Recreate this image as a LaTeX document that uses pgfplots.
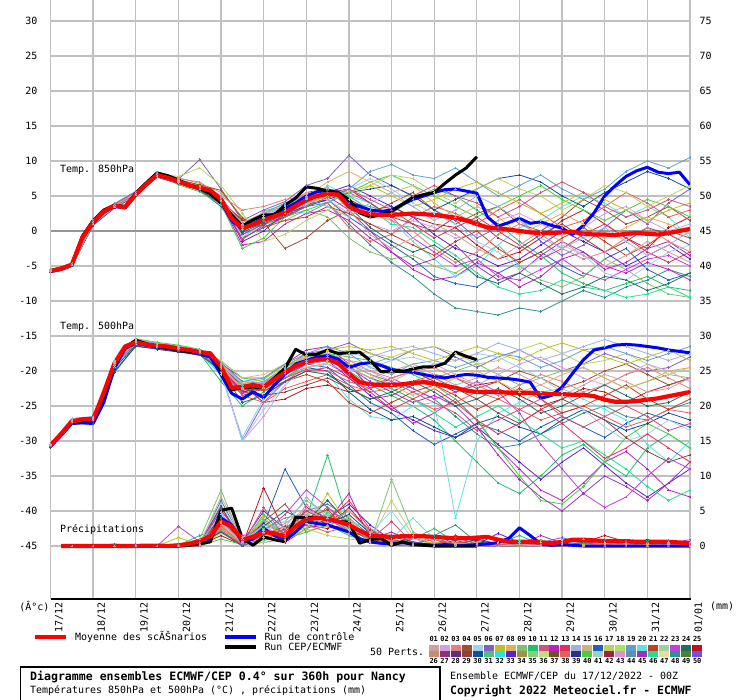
\documentclass[border=0pt]{standalone}
\usepackage{fontspec}
\setmainfont{DejaVu Sans Mono}
\usepackage{pgfplots}
\usepackage{pgfplotstable}
\pgfplotsset{compat=1.18}

\definecolor{p1}{HTML}{D0A0A0}\definecolor{p2}{HTML}{D0A0E0}\definecolor{p3}{HTML}{E08080}\definecolor{p4}{HTML}{A05030}\definecolor{p5}{HTML}{A0D0F0}
\definecolor{p6}{HTML}{8060C0}\definecolor{p7}{HTML}{C0C020}\definecolor{p8}{HTML}{E0B060}\definecolor{p9}{HTML}{80C070}\definecolor{p10}{HTML}{20C070}
\definecolor{p11}{HTML}{D05080}\definecolor{p12}{HTML}{C020C0}\definecolor{p13}{HTML}{E03060}\definecolor{p14}{HTML}{A0B0E0}\definecolor{p15}{HTML}{D0B080}
\definecolor{p16}{HTML}{2060C0}\definecolor{p17}{HTML}{C0D060}\definecolor{p18}{HTML}{B0E060}\definecolor{p19}{HTML}{60A0D0}\definecolor{p20}{HTML}{60E0E0}
\definecolor{p21}{HTML}{C04020}\definecolor{p22}{HTML}{A0D0A0}\definecolor{p23}{HTML}{C040E0}\definecolor{p24}{HTML}{207060}\definecolor{p25}{HTML}{C01020}
\definecolor{p26}{HTML}{C09070}\definecolor{p27}{HTML}{903070}\definecolor{p28}{HTML}{603080}\definecolor{p29}{HTML}{904040}\definecolor{p30}{HTML}{105090}
\definecolor{p31}{HTML}{50C080}\definecolor{p32}{HTML}{30E0E0}\definecolor{p33}{HTML}{6020D0}\definecolor{p34}{HTML}{A09050}\definecolor{p35}{HTML}{80D080}
\definecolor{p36}{HTML}{C0E080}\definecolor{p37}{HTML}{705030}\definecolor{p38}{HTML}{E06060}\definecolor{p39}{HTML}{303080}\definecolor{p40}{HTML}{40D040}
\definecolor{p41}{HTML}{A0D0C0}\definecolor{p42}{HTML}{A02040}\definecolor{p43}{HTML}{E090D0}\definecolor{p44}{HTML}{6090B0}\definecolor{p45}{HTML}{A030C0}
\definecolor{p46}{HTML}{20E090}\definecolor{p47}{HTML}{E0E0A0}\definecolor{p48}{HTML}{309090}\definecolor{p49}{HTML}{508030}\definecolor{p50}{HTML}{7050E0}
\colorlet{mc1}{p6}\colorlet{mc2}{p16}\colorlet{mc3}{p10}\colorlet{mc4}{p48}\colorlet{mc5}{p25}
\colorlet{mc6}{p9}\colorlet{mc7}{p12}\colorlet{mc8}{p20}\colorlet{mc9}{p4}\colorlet{mc10}{p33}
\colorlet{mc11}{p40}\colorlet{mc12}{p23}\colorlet{mc13}{p38}\colorlet{mc14}{p30}\colorlet{mc15}{p17}
\colorlet{mc16}{p45}\colorlet{mc17}{p2}\colorlet{mc18}{p29}\colorlet{mc19}{p46}\colorlet{mc20}{p19}
\colorlet{mc21}{p21}\colorlet{mc22}{p3}\colorlet{mc23}{p5}\colorlet{mc24}{p7}\colorlet{mc25}{p13}
\colorlet{mc26}{p24}\colorlet{mc27}{p8}\colorlet{mc28}{p14}\colorlet{mc29}{p11}\colorlet{mc30}{p1}
\definecolor{gridgray}{HTML}{C0C0C0}
\definecolor{zerogray}{HTML}{959595}
\newcommand\ft{\fontsize{10}{12}\selectfont}

% ensemble members, 850 hPa (degC)
\pgfplotstableread{
t m1 m2 m3 m4 m5 m6 m7 m8 m9 m10 m11 m12 m13 m14 m15 m16 m17 m18 m19 m20 m21 m22 m23 m24 m25 m26 m27 m28 m29 m30
0 -5.6 -5.8 -5.7 -5.6 -5.9 -5.5 -5.7 -5.6 -5.8 -5.7 -5.6 -5.8 -5.7 -5.9 -5.6 -5.7 -5.6 -5.8 -5.7 -5.6 -5.7 -5.6 -5.8 -5.7 -5.6 -5.8 -5.7 -5.6 -5.7 -5.8
0.5 -4.7 -4.9 -4.8 -4.7 -5.0 -4.6 -4.8 -4.7 -4.9 -4.8 -4.7 -4.9 -4.8 -5.0 -4.7 -4.8 -4.7 -4.9 -4.8 -4.7 -4.8 -4.7 -4.9 -4.8 -4.7 -4.9 -4.8 -4.7 -4.8 -4.9
1 1.5 0.8 1.3 1.0 1.1 1.6 1.2 1.4 0.9 1.1 1.3 1.0 1.2 0.9 1.4 1.1 1.3 1.0 1.2 1.5 1.1 1.3 1.0 1.2 1.4 0.9 1.2 1.3 1.1 1.0
1.5 3.9 3.3 3.7 3.4 3.6 3.9 3.5 3.8 3.4 3.6 3.7 3.5 3.6 3.3 3.8 3.5 3.6 3.4 3.6 3.9 3.5 3.7 3.4 3.6 3.8 3.4 3.6 3.7 3.5 3.4
2 5.6 5.0 5.4 5.2 5.1 5.7 5.3 5.5 5.1 5.2 5.4 5.2 5.3 5.0 5.5 5.2 5.4 5.1 5.3 5.6 5.2 5.4 5.1 5.3 5.5 5.1 5.3 5.4 5.2 5.1
2.5 8.4 7.8 8.1 7.9 7.7 8.3 8.0 8.2 7.9 8.0 8.1 7.8 8.0 7.7 8.2 7.9 8.1 7.8 8.0 8.3 7.9 8.2 7.8 8.0 8.1 7.8 8.0 8.1 7.9 7.8
3 7.4 6.9 7.2 7.0 6.8 7.6 7.1 7.3 6.9 7.0 6.6 7.0 7.1 6.8 7.8 7.0 7.2 6.9 7.1 7.4 7.3 7.5 6.9 7.2 7.0 6.8 7.1 7.2 7.0 6.9
3.5 10.2 5.8 6.3 6.0 6.0 6.8 6.2 6.5 6.1 6.0 5.6 6.2 6.3 5.9 9.0 6.1 6.2 6.0 6.2 6.5 6.6 7.0 6.0 6.4 6.0 5.8 6.2 6.3 6.1 6.0
4 6.0 3.5 4.8 4.2 4.6 5.5 4.0 5.0 4.3 4.4 3.8 4.9 4.7 4.1 6.5 4.4 4.6 4.3 4.5 4.8 5.8 5.0 4.2 4.6 4.2 3.9 4.4 4.6 4.5 4.3
4.5 1.5 -1.0 0.6 -0.5 1.0 2.0 -2.0 0.0 1.5 -1.5 -2.5 0.5 1.0 0.0 2.5 -0.5 0.8 1.5 0.2 -1.0 1.8 3.0 -0.8 0.5 -1.2 -0.2 0.3 0.9 0.7 1.2
5 3.0 0.5 2.2 1.0 1.5 1.0 -1.5 2.5 1.2 0.0 -1.0 2.5 2.0 1.5 -1.5 1.0 2.0 1.0 2.8 1.5 0.5 3.5 0.8 1.8 0.8 1.2 2.0 2.3 1.5 2.6
5.5 4.2 2.0 3.0 2.0 3.5 1.5 1.0 3.5 -2.5 2.5 2.0 4.0 3.0 2.5 -0.5 2.0 3.5 2.0 3.8 3.0 1.5 4.5 2.5 3.2 2.8 2.2 3.0 3.5 2.0 3.6
6 6.5 3.8 4.8 3.5 5.5 3.0 2.5 4.0 -1.0 4.5 3.0 5.0 5.0 3.5 1.5 4.0 5.5 3.5 4.5 2.5 2.0 5.0 3.8 4.0 4.2 4.2 5.0 4.6 3.5 5.2
6.5 7.5 4.5 5.5 4.0 6.0 2.0 3.0 6.5 1.5 5.5 4.0 6.0 4.0 4.5 3.0 5.0 4.5 5.5 6.0 4.0 3.5 5.5 5.0 5.0 5.5 5.8 7.0 3.5 4.8 6.2
7 10.8 2.0 4.0 1.0 4.5 -1.0 1.5 5.0 3.0 6.5 5.5 5.5 0.5 5.5 4.5 3.0 2.5 6.0 5.0 6.0 2.5 4.0 6.0 5.5 4.0 3.5 8.5 2.0 6.0 3.0
7.5 8.0 0.0 3.5 -2.0 3.0 -3.0 -1.0 4.0 2.5 5.0 7.0 4.0 -1.5 6.0 6.5 0.0 1.0 4.0 3.0 8.5 1.0 2.5 7.5 6.5 2.0 0.5 7.0 4.0 4.5 -0.5
8 6.5 -2.0 2.5 -4.5 3.5 -4.0 -3.0 1.5 4.0 3.5 8.0 2.0 -0.5 6.5 8.0 -3.0 0.0 2.0 1.0 9.5 -0.5 1.5 6.0 5.0 3.0 -1.5 5.5 5.5 3.0 -2.5
8.5 5.0 -4.0 4.5 -6.5 2.0 -3.5 -5.5 -1.5 5.5 2.0 6.5 -1.0 2.0 5.0 7.5 -5.0 1.5 1.0 0.5 8.0 -2.0 0.0 4.0 3.5 1.0 -3.0 6.5 3.5 5.0 -1.0
9 3.0 -6.5 6.0 -9.0 1.0 -5.0 -7.0 -4.0 3.0 -0.5 5.0 -3.0 3.5 3.0 5.5 -4.0 0.5 0.0 -1.5 7.5 -3.5 -2.5 2.5 4.5 -1.0 -2.0 4.0 1.5 6.5 1.0
9.5 1.5 -7.5 5.0 -11.0 0.5 -6.0 -6.5 -6.5 1.0 -2.5 3.5 -5.0 2.5 4.5 4.0 -2.0 -1.0 2.0 -3.5 9.0 -1.5 -4.5 1.0 6.0 0.5 -4.0 2.0 3.0 5.0 -0.5
10 -1.0 -8.0 3.0 -11.5 -2.0 -4.0 -4.5 -5.0 2.5 -3.5 2.0 -4.0 1.0 6.0 6.0 -5.0 -0.5 1.5 -6.0 7.0 0.0 -3.0 -1.5 7.0 2.0 -6.5 3.5 5.0 4.0 -2.5
10.5 0.5 -6.0 1.0 -12.0 -4.0 -2.0 -6.0 -2.0 3.5 -5.0 3.5 -6.5 3.0 7.5 7.5 -7.0 1.5 -1.0 -8.0 5.0 -2.5 -0.5 -3.0 5.5 0.0 -7.5 2.0 3.5 2.0 -4.0
11 2.0 -4.5 -1.5 -11.0 -3.0 -5.0 -8.0 0.5 1.0 -4.0 5.0 -7.0 4.5 8.0 6.0 -6.0 2.5 -2.5 -9.0 6.5 -4.5 1.0 -5.5 4.0 -2.0 -6.0 -0.5 1.5 3.5 -2.0
11.5 -1.5 -3.0 -3.5 -11.5 -1.0 -7.0 -6.5 1.5 0.0 -2.0 6.5 -5.5 2.5 7.0 5.0 -3.5 1.0 -0.5 -8.5 8.0 -3.0 -0.5 -4.0 2.5 -4.0 -7.5 1.0 -1.0 5.5 0.0
12 -3.5 -5.0 -6.0 -10.0 1.5 -8.0 -4.0 3.5 2.0 0.0 4.5 -4.0 0.5 5.0 3.0 -1.5 -0.5 1.0 -7.0 6.0 -1.0 -2.5 -2.0 4.0 -2.5 -9.0 2.5 -2.5 7.0 -1.5
12.5 -2.0 -6.5 -7.5 -8.5 3.0 -6.5 -3.0 5.0 4.5 -1.5 3.0 -6.0 1.5 3.5 4.5 -3.0 0.5 -1.0 -8.0 4.5 0.5 -4.0 -3.5 5.5 -0.5 -8.0 1.0 -1.0 5.5 -3.5
13 0.5 -4.0 -8.5 -9.5 1.0 -4.0 -5.0 4.0 3.0 -3.0 1.5 -7.0 3.5 5.5 6.5 -5.5 2.5 -3.0 -8.5 6.0 -1.5 -3.0 -6.0 4.5 1.0 -6.5 -1.0 0.5 3.5 -5.0
13.5 3.0 -2.5 -7.5 -8.0 -1.0 -5.5 -6.0 2.0 1.0 -5.0 3.0 -5.5 5.5 7.0 5.5 -4.5 3.5 -1.5 -9.5 8.5 -3.5 -1.0 -7.0 3.0 -1.0 -7.0 0.5 -1.5 2.0 -3.5
14 1.0 -5.5 -6.5 -7.0 -2.5 -7.5 -4.5 3.5 2.0 -3.5 4.5 -4.0 4.0 8.5 3.5 -2.5 1.5 0.5 -9.0 10.0 -2.0 0.5 -5.0 1.5 -3.0 -8.5 2.0 -3.5 3.0 -1.5
14.5 4.0 -7.0 -8.0 -5.5 0.5 -9.0 -5.5 2.0 3.5 -2.0 3.5 -3.5 2.0 7.5 5.0 -1.5 0.0 -0.5 -8.0 9.0 0.0 -1.5 -3.0 3.0 -4.5 -7.5 1.0 -2.0 4.5 -3.0
15 6.0 -6.0 -8.5 -6.5 2.0 -9.5 -7.0 -1.0 1.5 -4.0 2.0 -5.0 3.0 6.0 6.5 -3.5 1.0 -2.0 -9.5 10.5 -1.0 -3.0 -2.0 4.0 -3.0 -6.0 -0.5 0.0 3.5 -4.5
}\tA

% ensemble members, 500 hPa (degC)
\pgfplotstableread{
t m1 m2 m3 m4 m5 m6 m7 m8 m9 m10 m11 m12 m13 m14 m15 m16 m17 m18 m19 m20 m21 m22 m23 m24 m25 m26 m27 m28 m29 m30
0 -30.4 -30.8 -30.6 -30.5 -30.7 -30.5 -30.6 -30.8 -30.5 -30.6 -30.4 -30.7 -30.6 -30.9 -30.5 -30.6 -30.4 -30.7 -30.6 -30.5 -30.6 -30.5 -30.7 -30.5 -30.6 -30.8 -30.6 -30.5 -30.7 -30.6
0.5 -26.8 -27.5 -27.0 -27.0 -27.3 -27.1 -27.2 -27.4 -27.0 -27.1 -26.9 -27.3 -27.2 -27.6 -27.0 -27.1 -26.8 -27.2 -27.1 -27.0 -27.1 -27.0 -27.3 -27.0 -27.2 -27.4 -27.1 -27.0 -27.3 -27.2
1 -26.5 -27.6 -26.8 -26.7 -27.0 -26.8 -26.9 -27.1 -26.8 -26.9 -26.6 -27.0 -26.9 -27.4 -26.7 -26.8 -26.6 -26.9 -26.8 -26.7 -26.8 -26.7 -27.0 -26.8 -26.9 -27.2 -26.8 -26.7 -27.0 -26.9
1.5 -18.5 -20.0 -19.0 -18.8 -19.2 -18.7 -18.9 -19.5 -18.8 -18.9 -18.4 -19.1 -18.9 -20.2 -18.7 -18.8 -18.5 -18.9 -18.8 -18.6 -18.8 -18.7 -19.2 -18.8 -18.9 -19.6 -18.8 -18.6 -19.1 -18.9
2 -15.5 -16.5 -16.0 -15.8 -16.2 -15.7 -15.9 -16.3 -15.8 -15.9 -15.4 -16.1 -15.9 -16.4 -15.7 -15.8 -15.5 -15.9 -15.8 -15.6 -15.8 -15.7 -16.2 -15.8 -15.9 -16.3 -15.8 -15.6 -16.1 -15.9
2.5 -16.0 -16.8 -16.5 -16.3 -16.6 -16.2 -16.4 -16.7 -16.3 -16.4 -15.9 -16.6 -16.4 -16.9 -16.2 -16.3 -16.0 -16.4 -16.3 -16.1 -16.3 -16.2 -16.6 -16.3 -16.4 -16.7 -16.3 -16.1 -16.5 -16.4
3 -16.5 -17.2 -17.0 -16.7 -17.0 -16.6 -16.8 -17.1 -16.7 -16.8 -16.3 -17.0 -16.8 -17.3 -16.6 -16.7 -16.5 -16.8 -16.7 -16.5 -16.7 -16.6 -17.0 -16.7 -16.8 -17.1 -16.7 -16.5 -16.9 -16.8
3.5 -17.0 -17.6 -17.5 -17.2 -17.4 -17.5 -17.3 -17.6 -17.2 -17.3 -16.9 -17.5 -17.3 -17.7 -17.0 -17.2 -17.0 -17.3 -17.2 -17.0 -17.2 -17.1 -17.5 -17.2 -17.3 -17.6 -17.2 -17.0 -17.4 -17.3
4 -18.8 -19.8 -21.5 -19.2 -19.5 -20.5 -19.0 -20.5 -19.4 -19.3 -18.6 -20.0 -19.4 -19.8 -18.5 -19.6 -20.0 -19.5 -19.3 -19.0 -19.6 -19.1 -20.2 -19.2 -19.4 -20.0 -19.4 -18.9 -19.7 -19.5
4.5 -21.5 -23.5 -25.0 -22.0 -22.0 -23.0 -21.0 -29.5 -22.5 -22.0 -21.0 -30.0 -23.5 -23.0 -21.0 -22.8 -30.0 -22.5 -22.3 -21.5 -22.5 -22.0 -30.0 -21.8 -23.0 -24.5 -22.4 -21.8 -23.2 -22.6
5 -21.8 -22.5 -23.0 -21.5 -24.5 -22.0 -21.0 -24.0 -22.5 -22.0 -21.5 -24.5 -24.5 -22.5 -20.5 -22.0 -26.5 -23.5 -22.0 -21.0 -22.8 -21.8 -25.5 -21.2 -23.5 -23.5 -22.5 -21.6 -22.6 -22.3
5.5 -19.5 -20.5 -21.0 -20.0 -24.0 -19.5 -19.0 -21.5 -20.5 -20.0 -19.5 -21.5 -22.5 -21.0 -19.0 -20.5 -22.0 -23.0 -20.0 -19.0 -21.5 -19.8 -22.0 -19.2 -21.5 -21.5 -21.0 -19.6 -21.0 -20.3
6 -17.5 -19.0 -19.0 -18.5 -22.5 -18.0 -17.0 -20.0 -19.0 -18.5 -18.0 -19.5 -21.5 -19.5 -18.0 -19.0 -19.0 -22.0 -18.5 -17.5 -20.5 -18.2 -19.5 -17.8 -20.0 -20.0 -19.5 -18.0 -19.8 -18.8
6.5 -17.0 -19.5 -18.5 -18.0 -22.0 -17.5 -16.5 -20.5 -18.5 -18.5 -17.5 -19.0 -20.5 -20.0 -17.5 -18.5 -18.5 -21.0 -18.0 -16.5 -21.5 -17.8 -19.0 -17.0 -19.5 -20.5 -18.8 -17.2 -20.0 -18.4
7 -16.0 -22.0 -20.0 -19.0 -23.0 -18.5 -19.0 -24.0 -19.5 -21.0 -18.0 -20.5 -22.0 -23.0 -17.0 -19.5 -19.0 -22.5 -19.5 -17.5 -24.5 -18.5 -20.0 -16.5 -21.0 -22.5 -19.0 -17.5 -21.5 -19.6
7.5 -17.5 -24.5 -22.0 -20.5 -22.5 -19.0 -22.5 -26.5 -21.0 -23.5 -18.5 -22.0 -23.0 -25.5 -17.5 -21.5 -20.0 -24.0 -21.0 -19.5 -26.0 -20.0 -19.5 -17.0 -23.0 -24.0 -20.5 -18.0 -22.5 -21.0
8 -18.5 -26.0 -23.5 -21.5 -21.0 -18.0 -25.0 -27.0 -22.0 -25.5 -19.5 -21.0 -22.5 -27.0 -18.0 -23.0 -21.5 -23.5 -22.5 -20.5 -24.5 -21.0 -18.5 -16.5 -25.5 -23.0 -22.0 -17.0 -21.5 -20.0
8.5 -17.0 -28.5 -25.0 -22.5 -20.0 -19.5 -27.5 -25.0 -21.5 -27.0 -20.5 -22.5 -24.0 -26.5 -17.0 -24.5 -20.0 -22.0 -24.0 -19.0 -23.0 -20.0 -18.0 -17.5 -24.0 -21.5 -23.5 -16.5 -23.0 -19.0
9 -16.5 -30.5 -27.0 -24.0 -21.5 -21.0 -26.0 -24.5 -20.5 -28.5 -22.0 -24.0 -25.5 -28.0 -16.5 -23.5 -19.0 -21.0 -26.0 -18.5 -22.0 -19.5 -19.0 -18.5 -22.5 -23.0 -22.5 -17.5 -24.5 -20.5
9.5 -18.0 -29.0 -30.0 -26.5 -23.0 -20.0 -24.0 -41.0 -21.0 -29.5 -24.0 -23.0 -24.5 -29.5 -17.5 -25.0 -20.5 -22.5 -28.0 -19.5 -23.5 -21.0 -18.5 -17.5 -24.5 -25.0 -21.0 -18.5 -26.0 -22.0
10 -19.5 -27.5 -33.0 -29.0 -22.0 -19.0 -27.0 -30.0 -22.5 -28.0 -27.0 -21.5 -23.0 -27.5 -19.0 -28.0 -22.0 -24.0 -26.5 -18.5 -25.5 -22.0 -17.5 -16.5 -27.0 -24.0 -20.0 -17.5 -28.5 -21.0
10.5 -18.0 -28.5 -36.0 -31.0 -21.5 -20.5 -31.0 -26.0 -21.5 -30.5 -31.0 -23.0 -24.0 -26.5 -18.5 -32.0 -20.5 -26.0 -25.0 -17.5 -24.0 -23.5 -18.0 -17.5 -29.0 -22.5 -21.5 -16.0 -27.0 -19.5
11 -17.0 -30.0 -37.5 -30.5 -23.5 -22.0 -34.0 -24.5 -20.0 -33.0 -35.0 -26.0 -25.5 -28.0 -17.0 -35.5 -19.0 -27.5 -27.0 -18.0 -22.5 -22.0 -19.5 -18.5 -27.5 -24.0 -23.0 -17.0 -25.5 -20.5
11.5 -18.5 -28.0 -35.0 -29.0 -25.0 -21.0 -37.0 -23.0 -21.0 -35.5 -38.5 -30.5 -27.0 -29.0 -16.0 -38.0 -18.0 -25.5 -29.0 -19.5 -24.0 -20.5 -21.0 -17.0 -25.5 -26.0 -22.0 -18.5 -24.0 -22.0
12 -20.0 -26.5 -32.0 -27.5 -24.0 -20.0 -38.5 -22.5 -22.5 -33.0 -39.0 -34.0 -26.0 -27.0 -17.5 -40.0 -19.5 -24.0 -31.0 -18.5 -26.0 -21.5 -23.0 -16.0 -27.5 -25.0 -20.5 -17.5 -26.5 -23.5
12.5 -19.0 -28.0 -30.5 -26.0 -22.5 -19.5 -36.0 -24.0 -21.5 -31.0 -36.5 -37.5 -25.0 -25.5 -19.0 -37.5 -21.0 -25.5 -30.0 -17.0 -25.0 -23.0 -25.5 -17.0 -30.0 -23.5 -19.5 -16.5 -28.0 -22.0
13 -17.5 -29.5 -33.0 -25.0 -23.0 -21.0 -33.0 -25.5 -20.0 -33.5 -33.0 -39.5 -26.5 -27.0 -18.5 -35.0 -22.0 -27.0 -32.0 -16.5 -23.5 -22.0 -28.0 -18.0 -32.5 -22.0 -21.0 -15.5 -26.5 -20.5
13.5 -18.5 -27.5 -35.0 -26.5 -24.5 -22.5 -31.5 -27.0 -19.0 -36.0 -29.5 -38.0 -28.0 -28.5 -17.5 -36.5 -20.5 -29.5 -34.0 -17.5 -22.0 -20.5 -30.0 -19.0 -31.0 -23.5 -22.5 -16.5 -25.0 -21.5
14 -20.0 -26.0 -31.0 -27.0 -23.0 -21.5 -34.0 -30.5 -20.5 -38.0 -27.5 -35.0 -27.0 -27.5 -19.0 -38.5 -19.0 -31.5 -36.5 -18.5 -24.0 -19.5 -29.0 -18.0 -29.0 -25.0 -21.5 -17.5 -26.5 -23.0
14.5 -19.5 -27.0 -29.0 -25.5 -22.0 -20.5 -37.0 -33.0 -22.0 -36.0 -29.0 -32.5 -25.5 -26.0 -20.5 -36.0 -20.0 -33.0 -38.5 -17.5 -25.5 -21.0 -27.0 -17.0 -31.0 -24.5 -20.0 -18.5 -28.5 -22.5
15 -18.0 -28.0 -31.0 -24.5 -21.0 -21.0 -38.0 -30.0 -21.0 -34.0 -31.0 -34.0 -26.0 -27.0 -19.5 -33.0 -21.5 -32.0 -37.0 -16.5 -24.0 -22.5 -28.5 -18.5 -33.0 -23.0 -19.5 -17.5 -27.5 -21.0
}\tB

% ensemble members, precipitation (mm)
\pgfplotstableread{
t m1 m2 m3 m4 m5 m6 m7 m8 m9 m10 m11 m12 m13 m14 m15 m16 m17 m18 m19 m20 m21 m22 m23 m24 m25 m26 m27 m28 m29 m30
0.5 0 0 0 0 0 0 0 0 0 0 0 0 0 0 0 0 0 0 0 0 0 0 0 0 0 0 0 0 0 0
1 0 0 0 0 0 0 0 0 0 0 0 0 0 0 0 0 0 0 0 0 0 0 0 0 0 0 0 0 0 0
1.5 0 0 0 0 0.2 0 0 0 0.3 0 0 0 0 0 0 0 0 0 0 0 0 0 0 0 0 0.1 0 0 0 0
2 0 0 0 0 0 0 0 0 0 0 0 0.2 0 0 0 0 0 0 0 0 0 0.1 0 0 0 0 0 0 0 0
2.5 0 0 0 0 0 0 0 0 0 0 0 0 0 0 0 0 0 0 0 0 0 0 0 0 0 0 0 0 0 0
3 0 0 0.1 0 0 0.2 0 0 0 0 0 2.8 0 0 0 0 0 0 0 0 0 0 0 1.2 0 0 0 0 0.3 0
3.5 0.2 0.5 1.5 0.3 0.1 1.0 0.0 0.4 0.2 0.1 0.0 0.6 0.2 0.3 0.1 0.0 0.2 0.4 0.1 0.2 0.3 0.1 0.6 0.2 0.0 0.4 0.2 0.1 0.5 0.2
4 3.5 5.5 2.5 6.5 1.5 8.0 3.0 4.5 2.0 3.8 1.0 5.0 2.8 4.2 1.8 2.2 3.2 5.8 2.4 3.6 4.0 2.6 6.0 3.0 5.2 2.0 3.4 4.8 2.2 7.0
4.5 0.5 1.0 0.3 0.8 0.1 0.5 0.2 1.2 0.0 0.6 0.2 1.5 0.4 0.9 0.3 0.0 0.7 0.2 0.5 1.0 0.6 0.2 1.0 0.4 0.8 0.1 0.3 0.5 0.2 1.2
5 2.0 3.0 4.5 1.0 8.3 2.5 1.5 0.8 3.5 5.0 0.5 2.0 1.8 3.2 0.6 1.2 2.8 1.6 3.8 2.4 1.6 3.6 2.2 4.2 1.0 2.8 1.2 3.0 5.5 2.0
5.5 1.0 11.0 1.5 2.5 2.0 3.5 0.5 1.5 6.0 2.5 1.0 4.5 2.2 1.8 3.0 0.8 1.2 2.8 1.6 4.0 2.4 1.0 3.5 0.8 2.0 5.0 1.8 2.6 1.2 3.2
6 3.5 5.5 4.0 5.0 3.0 6.5 2.5 4.5 2.0 3.5 2.0 8.0 3.0 3.8 2.5 5.5 4.2 3.2 2.6 4.6 4.0 6.0 3.2 2.4 5.0 3.5 4.6 7.0 3.0 5.4
6.5 4.5 4.0 13.0 6.0 2.5 4.5 3.5 5.0 3.0 4.0 3.0 5.5 2.0 3.2 1.5 3.8 6.5 3.6 4.8 2.8 5.2 3.0 4.4 7.5 3.6 6.5 2.8 4.0 5.6 3.4
7 3.0 2.5 3.0 4.0 5.5 2.0 7.5 3.5 2.5 6.0 1.5 3.0 2.8 4.5 1.0 2.2 3.3 5.0 2.6 1.8 2.0 3.8 2.4 3.0 6.5 3.2 4.2 2.2 3.0 5.0
7.5 1.0 0.8 0.5 1.5 2.0 0.5 1.0 2.5 1.0 3.0 0.5 0.8 1.5 1.8 0.7 0.4 1.2 2.2 1.4 0.6 1.2 0.6 1.8 0.8 2.4 1.0 0.5 1.6 0.9 2.0
8 0.5 1.5 0.2 0.6 0.5 9.5 2.0 1.0 0.4 0.8 0.2 0.3 0.7 0.9 6.5 0.1 0.5 0.6 0.3 0.2 0.4 0.8 5.0 0.3 0.6 1.4 0.2 0.4 3.5 0.6
8.5 0.2 0.3 1.0 0.1 0.0 2.0 0.5 4.0 0.1 0.5 0.0 1.2 0.3 0.4 1.5 0.0 0.2 0.0 0.6 0.0 0.1 0.5 1.0 0.2 0.3 0.6 1.8 0.1 0.4 0.2
9 0.0 0.0 2.5 1.5 0.0 0.5 0.2 1.0 0.3 0.0 0.0 0.2 0.1 0.2 0.2 0.5 0.0 0.2 0.1 0.4 0.0 0.2 0.3 0.6 0.1 0.2 0.5 0.0 0.9 0.0
9.5 0.1 0.0 0.5 3.0 0.4 0.2 0.0 0.3 1.5 0.0 0.1 0.0 0.6 0.0 0.0 0.2 0.0 0.8 0.0 0.1 0.3 0.0 0.1 0.2 1.2 0.0 0.1 0.4 0.2 0.3
10 0.3 0.2 0.0 0.5 0.8 0.0 0.1 0.1 0.6 0.2 0.0 0.0 0.2 1.0 0.0 0.0 0.4 0.1 0.0 0.0 0.1 0.4 0.0 0.0 0.3 0.6 0.0 0.2 0.0 0.5
10.5 0.0 0.5 0.3 0.0 0.3 0.0 0.0 0.0 0.2 1.8 0.0 0.4 0.0 0.3 0.1 0.0 0.2 0.0 0.2 0.5 0.0 0.2 0.5 0.3 0.0 0.1 0.4 0.0 0.2 0.0
11 0.0 0.1 1.5 0.0 0.0 0.4 0.6 0.0 0.0 0.5 0.3 0.1 0.1 0.0 0.5 0.2 0.0 0.0 0.8 0.2 0.4 0.0 0.2 0.0 0.6 0.3 0.0 0.5 0.1 0.2
11.5 0.5 0.0 0.2 0.2 0.0 0.9 0.2 0.1 0.0 0.0 0.8 0.0 0.3 0.0 0.1 1.5 0.0 0.4 0.1 0.0 0.2 0.5 0.0 0.1 0.0 0.2 0.6 0.0 0.3 0.1
12 1.2 0.3 0.0 0.5 0.1 0.2 0.0 0.4 0.2 0.0 0.3 0.0 0.0 0.6 0.0 0.4 0.0 0.2 0.0 0.0 0.0 0.2 0.8 0.0 0.4 0.0 0.2 0.3 0.0 0.6
12.5 0.3 0.6 0.5 0.1 0.5 0.0 0.3 1.0 0.0 0.1 0.0 0.2 0.0 0.2 0.0 0.1 0.3 0.0 0.0 0.2 0.6 0.0 0.3 0.2 0.0 0.5 0.0 0.1 0.4 0.0
13 0.0 0.2 1.0 0.0 1.5 0.0 0.8 0.4 0.3 0.0 0.0 0.6 0.4 0.0 0.2 0.0 0.1 0.0 0.1 0.0 0.2 0.3 0.0 0.5 0.2 0.0 0.4 0.0 0.1 0.3
13.5 0.0 0.0 0.2 0.0 0.6 0.2 0.1 0.0 0.7 0.2 0.0 0.2 0.1 0.3 0.0 0.0 0.0 0.6 0.0 0.1 0.0 0.6 0.2 0.0 0.8 0.1 0.0 0.3 0.0 0.2
14 0.4 0.1 0.8 0.3 0.0 0.5 0.0 0.0 0.2 0.9 0.1 0.0 0.0 0.1 0.5 0.2 0.0 0.2 0.3 0.0 0.3 0.0 0.4 0.2 0.1 0.6 0.2 0.0 0.5 0.0
14.5 0.8 0.4 0.0 0.1 0.2 0.1 0.3 0.1 0.0 0.3 0.0 0.4 0.0 0.0 0.2 0.5 0.2 0.0 0.6 0.0 0.1 0.2 0.0 0.5 0.3 0.0 0.6 0.2 0.0 0.4
15 0.2 0.3 0.1 0.0 0.4 0.0 0.6 0.2 0.0 0.1 0.0 0.9 0.3 0.2 0.0 0.1 0.0 0.4 0.1 0.2 0.0 0.4 0.2 0.1 0.0 0.3 0.1 0.5 0.2 0.0
}\tP

% ensemble mean and control run (6-hourly): T850, T500 (degC), precipitation (mm)
\pgfplotstableread{
t m850 c850 m500 c500 pm pc
0 -5.7 -5.8 -30.6 -30.8 nan nan
0.25 -5.4 -5.5 -29.0 -29.2 0 0
0.5 -4.8 -4.9 -27.2 -27.5 0 0
0.75 -0.9 -1.0 -26.9 -27.4 0 0
1.0 1.3 1.2 -26.9 -27.5 0 0
1.25 2.8 2.7 -23.1 -24.5 0 0
1.5 3.6 3.5 -18.9 -19.6 0 0
1.75 3.4 3.3 -16.5 -16.8 0 0
2.0 5.2 5.1 -15.9 -16.0 0 0
2.25 6.7 6.6 -16.2 -16.3 0.05 0
2.5 8.0 8.1 -16.4 -16.6 0.05 0
2.75 7.6 7.7 -16.5 -16.8 0 0
3.0 7.1 7.2 -16.8 -17.0 0.1 0
3.25 6.5 6.6 -17.0 -17.3 0.3 0.2
3.5 6.2 6.1 -17.3 -17.6 0.7 0.5
3.75 5.8 5.5 -17.5 -18.0 1.4 1.0
4.0 4.5 4.2 -19.4 -20.5 3.5 4.0
4.25 1.8 1.5 -22.4 -23.2 2.8 3.0
4.5 0.4 0.3 -22.3 -24.0 0.9 0.5
4.75 0.9 1.0 -22.0 -23.0 1.3 1.0
5.0 1.6 1.9 -22.3 -23.8 2.0 2.5
5.25 2.1 2.4 -21.2 -22.0 1.8 1.5
5.5 2.6 3.2 -20.2 -20.5 1.4 0.8
5.75 3.6 4.0 -19.3 -19.0 2.8 2.0
6.0 4.4 5.0 -18.7 -18.5 3.8 3.5
6.25 5.0 5.6 -18.4 -18.0 4.0 3.2
6.5 5.3 5.8 -18.3 -17.8 3.9 3.0
6.75 5.2 5.5 -18.9 -18.3 3.5 2.5
7.0 3.5 4.0 -20.4 -19.5 3.0 2.0
7.25 2.8 3.5 -21.6 -19.0 2.2 1.0
7.5 2.4 3.0 -21.9 -18.8 1.5 0.6
7.75 2.3 2.8 -22.0 -19.2 1.4 0.4
8.0 2.3 3.0 -22.0 -19.8 1.3 0.3
8.25 2.4 3.8 -21.9 -20.0 1.4 0.5
8.5 2.5 4.5 -21.7 -20.2 1.4 0.3
8.75 2.4 5.0 -21.6 -20.5 1.4 0.2
9.0 2.3 5.5 -21.8 -20.8 1.3 0.1
9.25 2.1 5.9 -22.1 -21.0 1.2 0.2
9.5 1.9 6.0 -22.4 -20.7 1.1 0.1
9.75 1.5 5.7 -22.8 -20.5 1.1 0.1
10.0 1.0 5.4 -23.0 -20.6 1.2 0.2
10.25 0.5 2.0 -23.0 -20.9 1.3 0.3
10.5 0.4 0.7 -23.0 -21.0 0.9 0.5
10.75 0.2 1.2 -23.1 -21.1 0.6 1.1
11.0 0.0 1.8 -23.1 -21.3 0.6 2.6
11.25 -0.2 1.1 -23.1 -21.6 0.6 1.5
11.5 -0.3 1.3 -23.2 -23.9 0.5 0.3
11.75 -0.3 0.8 -23.3 -23.5 0.4 0.1
12.0 -0.2 0.4 -23.3 -22.3 0.6 0.2
12.25 -0.1 -0.5 -23.4 -20.3 0.9 0.1
12.5 -0.4 0.8 -23.4 -18.4 0.9 0
12.75 -0.5 2.6 -23.6 -17.0 0.8 0
13.0 -0.5 5.0 -24.1 -16.7 0.7 0
13.25 -0.6 6.5 -24.4 -16.3 0.7 0
13.5 -0.4 7.8 -24.4 -16.2 0.7 0
13.75 -0.3 8.6 -24.3 -16.3 0.6 0
14.0 -0.4 9.1 -24.1 -16.5 0.6 0
14.25 -0.5 8.4 -23.9 -16.7 0.6 0
14.5 -0.3 8.2 -23.6 -17.0 0.6 0
14.75 0.0 8.4 -23.3 -17.2 0.5 0
15.0 0.3 6.6 -23.0 -17.4 0.4 0
}\tM

% operational run (to 240 h)
\pgfplotstableread{
t o850 o500 op
0 -5.7 -30.7 nan
0.25 -5.3 -29.0 0
0.5 -4.8 -27.3 0
0.75 -0.7 -27.1 0
1.0 1.5 -27.1 0
1.25 3.0 -23.6 0
1.5 3.7 -19.3 0
1.75 3.5 -16.6 0
2.0 5.4 -15.6 0
2.25 6.9 -16.1 0
2.5 8.3 -16.5 0
2.75 7.9 -16.7 0
3.0 7.3 -17.1 0
3.25 6.5 -17.2 0.1
3.5 6.1 -17.3 0.3
3.75 5.3 -17.4 0.6
4.0 4.0 -19.9 5.1
4.25 2.3 -22.7 5.4
4.5 0.7 -22.4 1.1
4.75 1.6 -22.3 0.1
5.0 2.3 -22.4 1.3
5.25 2.3 -21.0 0.9
5.5 3.7 -19.6 0.6
5.75 4.7 -16.9 4.1
6.0 6.3 -17.7 4.1
6.25 6.1 -17.6 4.0
6.5 5.7 -17.0 3.8
6.75 5.5 -17.5 3.5
7.0 4.5 -17.4 3.4
7.25 2.6 -17.3 0.4
7.5 2.0 -18.5 0.9
7.75 2.3 -20.1 1.1
8.0 2.8 -20.0 0.1
8.25 3.8 -20.1 0.6
8.5 4.8 -19.7 0.2
8.75 5.2 -19.4 0.1
9.0 5.5 -19.4 0
9.25 6.8 -18.9 0
9.5 8.0 -17.3 0
9.75 9.0 -17.9 0
10.0 10.6 -18.4 0
}\tO

\pgfplotsset{
  memb/.style={line width=0.8bp, mark=+, mark size=1.2bp, mark options={line width=0.6bp}},
  base/.style={at={(50.5bp,101bp)}, anchor=south west, scale only axis,
    width=639.5bp, height=599bp, xmin=0, xmax=15,
    axis line style={draw=none}, tick style={draw=none},
    /pgf/number format/assume math mode=true},
}

\begin{document}
\begin{tikzpicture}
\path[use as bounding box] (0bp,0bp) rectangle (740bp,700bp);
% temperatures (left scale)
\begin{axis}[base,
  ymin=-52.571, ymax=33,
  xtick={0,1,...,15}, xticklabels={},
  ytick={-45,-40,...,30},
  extra y ticks={-40,-30,-20,-10,10,20,30},
  extra y tick labels={},
  extra y tick style={grid=major, major grid style={draw=gridgray, line width=2.4bp}},
  grid=major,
  major grid style={draw=gridgray, line width=1.3bp},
  yticklabel style={font=\ft, inner sep=0pt, anchor=east, xshift=-13bp},
]
\draw[zerogray, line width=2.4bp] (axis cs:0,0) -- (axis cs:15,0);
\pgfplotsinvokeforeach{1,...,30}{
  \addplot[memb, color=mc#1] table[x=t, y=m#1] {\tA};
  \addplot[memb, color=mc#1] table[x=t, y=m#1] {\tB};
}
\addplot[blue, line width=3bp, line join=round] table[x=t, y=c850] {\tM};
\addplot[blue, line width=3bp, line join=round] table[x=t, y=c500] {\tM};
\addplot[black, line width=3bp, line join=round] table[x=t, y=o850] {\tO};
\addplot[black, line width=3bp, line join=round] table[x=t, y=o500] {\tO};
\addplot[red, line width=4.2bp, line join=round] table[x=t, y=m850] {\tM};
\addplot[red, line width=4.2bp, line join=round] table[x=t, y=m500] {\tM};
\end{axis}
% precipitation (right scale)
\begin{axis}[base,
  ymin=-7.571, ymax=78,
  xtick=\empty, ytick={0,5,...,75},
  axis y line*=right,
  yticklabel style={font=\ft, inner sep=0pt, anchor=west, xshift=9.5bp},
]
\pgfplotsinvokeforeach{1,...,30}{
  \addplot[memb, color=mc#1] table[x=t, y=m#1] {\tP};
}
\addplot[blue, line width=3bp, line join=round] table[x=t, y=pc] {\tM};
\addplot[black, line width=3bp, line join=round] table[x=t, y=op] {\tO};
\addplot[red, line width=4.2bp, line join=round] table[x=t, y=pm] {\tM};
\end{axis}

\begin{scope}[x=1bp, y=1bp]
\draw[black, line width=1.5bp] (50.5,101) -- (691,101);
\node[anchor=west, inner sep=0pt, font=\ft] at (60,530.7) {Temp. 850hPa};
\node[anchor=west, inner sep=0pt, font=\ft] at (60,373.3) {Temp. 500hPa};
\node[anchor=west, inner sep=0pt, font=\ft] at (60,170) {Précipitations};
\foreach \i/\d/\m in {0/17/12,1/18/12,2/19/12,3/20/12,4/21/12,5/22/12,6/23/12,7/24/12,8/25/12,9/26/12,10/27/12,11/28/12,12/29/12,13/30/12,14/31/12,15/01/01}
  \node[rotate=90, anchor=base east, inner sep=0pt, font=\ft] at (50.5+42.633*\i+11.8, 98) {\d/\m};
\node[anchor=west, inner sep=0pt, font=\ft] at (19.3,93.3) {(Â°c)};
\node[anchor=west, inner sep=0pt, font=\ft] at (710,93.3) {(mm)};
% legend
\draw[red, line width=4bp] (35,63) -- (66,63);
\node[anchor=west, inner sep=0pt, font=\ft] at (75,63.3) {Moyenne des scÃŠnarios};
\draw[blue, line width=4bp] (225,63) -- (256,63);
\node[anchor=west, inner sep=0pt, font=\ft] at (264.3,63.3) {Run de contrôle};
\draw[black, line width=4bp] (225,53) -- (256,53);
\node[anchor=west, inner sep=0pt, font=\ft] at (264.3,52.7) {Run CEP/ECMWF};
\node[anchor=west, inner sep=0pt, font=\ft] at (370,47.7) {50 Perts.};
\foreach \i/\lab [count=\k from 0] in {1/01,2/02,3/03,4/04,5/05,6/06,7/07,8/08,9/09,10/10,11/11,12/12,13/13,14/14,15/15,16/16,17/17,18/18,19/19,20/20,21/21,22/22,23/23,24/24,25/25} {
  \fill[p\i] (428.7+10.98*\k,49) rectangle ++(10,6);
  \node[inner sep=0pt, font=\fontsize{7}{8}\selectfont\bfseries] at (433.7+10.98*\k,60.7) {\lab};
}
\foreach \i [count=\k from 0] in {26,...,50} {
  \fill[p\i] (428.7+10.98*\k,43) rectangle ++(10,6);
  \node[inner sep=0pt, font=\fontsize{7}{8}\selectfont\bfseries] at (433.7+10.98*\k,39) {\i};
}
% title box
\draw[black, line width=1.5bp] (20.7,-3) rectangle (440,33);
\node[anchor=west, inner sep=0pt, font=\fontsize{11.6}{14}\selectfont\bfseries] at (30,23) {Diagramme ensembles ECMWF/CEP 0.4° sur 360h pour Nancy};
\node[anchor=west, inner sep=0pt, font=\ft] at (30,9) {Températures 850hPa et 500hPa (°C) , précipitations (mm)};
\node[anchor=west, inner sep=0pt, font=\ft] at (450,24.3) {Ensemble ECMWF/CEP du 17/12/2022 - 00Z};
\node[anchor=west, inner sep=0pt, font=\fontsize{11.5}{14}\selectfont\bfseries] at (450,9) {Copyright 2022 Meteociel.fr - ECMWF};
\end{scope}
\end{tikzpicture}
\end{document}
